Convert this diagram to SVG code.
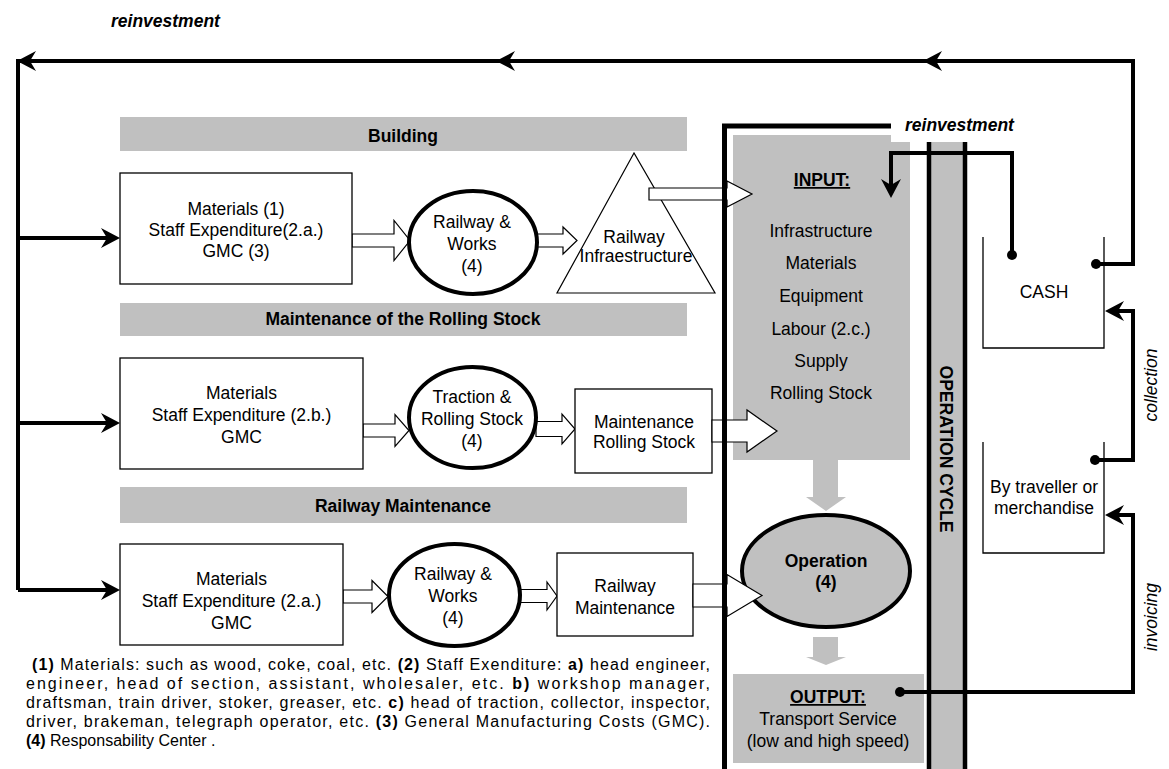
<svg xmlns="http://www.w3.org/2000/svg" xmlns:xlink="http://www.w3.org/1999/xlink" width="1169" height="769" viewBox="0 0 1169 769">
<style>
.t{font-family:"Liberation Sans",Arial,sans-serif;font-size:17.5px;text-anchor:middle;fill:#000}
.b{font-weight:bold}
.bi{font-weight:bold;font-style:italic}
.i{font-style:italic}
.u{text-decoration:underline}
.fn{font-family:"Liberation Sans",Arial,sans-serif;font-size:16px;fill:#000}
.conn{fill:none;stroke:#000;stroke-width:4;stroke-linejoin:miter}
.box{fill:#fff;stroke:#000;stroke-width:1.3}
.ell{fill:#fff;stroke:#000;stroke-width:4}
.hol{fill:#fff;stroke:#000;stroke-width:1.2;stroke-linejoin:miter}
.gray{fill:#c0c0c0}
</style>
<defs>
<path id="hd" d="M0,0 L19,-10 L13,0 L19,10 Z" fill="#000"/>
</defs>
<rect width="1169" height="769" fill="#fff"/>

<!-- header bars -->
<g id="bar-building"><rect class="gray" x="120" y="117" width="567" height="34"/><text class="t b" x="403" y="142">Building</text></g>
<g id="bar-rolling"><rect class="gray" x="120" y="303" width="567" height="33"/><text class="t b" x="403" y="325">Maintenance of the Rolling Stock</text></g>
<g id="bar-railway"><rect class="gray" x="120" y="487" width="567" height="36"/><text class="t b" x="403" y="512">Railway Maintenance</text></g>

<!-- INPUT -->
<g id="input"><polygon class="gray" points="733,135 891,135 891,142 910,142 910,460 733,460"/>
<text class="t b u" x="822" y="186">INPUT:</text>
<text class="t" x="821" y="237">Infrastructure</text>
<text class="t" x="821" y="269">Materials</text>
<text class="t" x="821" y="302">Equipment</text>
<text class="t" x="821" y="335">Labour (2.c.)</text>
<text class="t" x="821" y="367">Supply</text>
<text class="t" x="821" y="399">Rolling Stock</text></g>

<!-- operation cycle band -->
<g id="cycle"><rect class="gray" x="929" y="142" width="36" height="627"/>
<line x1="929" y1="142" x2="929" y2="769" stroke="#000" stroke-width="4.5"/>
<line x1="965" y1="142" x2="965" y2="769" stroke="#000" stroke-width="4.5"/>
<text class="t b" transform="translate(940,449) rotate(90)">OPERATION CYCLE</text></g>

<!-- gray block arrows -->
<g id="flow">
<polygon class="gray" points="813,460 838,460 838,497 846,497 826,511 806,497 813,497"/>
<polygon class="gray" points="813,637 838,637 838,657 846,657 826,665 806,657 813,657"/>
</g>

<!-- OUTPUT -->
<g id="output"><rect class="gray" x="733" y="674" width="191" height="89"/>
<text class="t b u" x="828" y="703">OUTPUT:</text>
<text class="t" x="828" y="725">Transport Service</text>
<text class="t" x="828" y="747">(low and high speed)</text></g>

<!-- hollow arrows (behind ellipses) -->
<g id="hollow-arrows">
<polygon class="hol" points="352,234 394,234 394,220.5 410,240.5 394,260.5 394,247 352,247"/>
<polygon class="hol" points="537,234 563,234 563,227 577,240.5 563,254 563,247 537,247"/>
<polygon class="hol" points="363,424 395,424 395,414.5 409,430.5 395,446.5 395,437 363,437"/>
<polygon class="hol" points="536,421.5 562,421.5 562,414 575,429 562,444 562,436.5 536,436.5"/>
<polygon class="hol" points="343,590 372,590 372,580.5 388,596.5 372,612.5 372,603 343,603"/>
<polygon class="hol" points="520,589.5 547,589.5 547,582 557,596 547,610 547,602.5 520,602.5"/>
</g>

<!-- boxes -->
<g id="box1"><rect class="box" x="120" y="173" width="232" height="111"/>
<text class="t" x="236" y="215">Materials (1)</text><text class="t" x="236" y="236">Staff Expenditure(2.a.)</text><text class="t" x="236" y="257">GMC (3)</text></g>
<g id="box2"><rect class="box" x="120" y="358" width="243" height="111"/>
<text class="t" x="241.5" y="399">Materials</text><text class="t" x="241.5" y="421">Staff Expenditure (2.b.)</text><text class="t" x="241.5" y="443">GMC</text></g>
<g id="box3"><rect class="box" x="120" y="544" width="223" height="101"/>
<text class="t" x="231.5" y="585">Materials</text><text class="t" x="231.5" y="607">Staff Expenditure (2.a.)</text><text class="t" x="231.5" y="629">GMC</text></g>

<!-- ellipses -->
<g id="works1"><ellipse class="ell" cx="473" cy="242.5" rx="64" ry="51.5"/>
<text class="t" x="472" y="228">Railway &amp;</text><text class="t" x="472" y="250">Works</text><text class="t" x="472" y="272">(4)</text></g>
<g id="traction"><ellipse class="ell" cx="472.5" cy="417.5" rx="63.5" ry="50.5"/>
<text class="t" x="472" y="403">Traction &amp;</text><text class="t" x="472" y="425">Rolling Stock</text><text class="t" x="472" y="447">(4)</text></g>
<g id="works2"><ellipse class="ell" cx="454.5" cy="595" rx="65.5" ry="51"/>
<text class="t" x="453" y="580">Railway &amp;</text><text class="t" x="453" y="602">Works</text><text class="t" x="453" y="624">(4)</text></g>

<!-- triangle -->
<g id="infra"><polygon points="634,153 557,293 715,293" fill="#fff" stroke="#000" stroke-width="1.2"/>
<text class="t" x="634" y="243">Railway</text><text class="t" x="636" y="262">Infraestructure</text></g>

<!-- maintenance boxes -->
<g id="mrs"><rect class="box" x="575" y="389" width="137" height="84"/>
<text class="t" x="644" y="428">Maintenance</text><text class="t" x="644" y="448">Rolling Stock</text></g>
<g id="rm"><rect class="box" x="557" y="553" width="136" height="83"/>
<text class="t" x="625" y="592">Railway</text><text class="t" x="625" y="614">Maintenance</text></g>

<!-- Operation -->
<g id="operation"><ellipse cx="826" cy="571" rx="84" ry="56" fill="#c0c0c0" stroke="#000" stroke-width="4"/>
<text class="t b" x="826" y="567">Operation</text><text class="t b" x="826" y="588">(4)</text></g>

<!-- hollow arrows to input / operation -->
<g id="hollow-arrows-2">
<polygon class="hol" points="649,188 727,188 727,181 752,194 727,207 727,200 649,200"/>
<polygon class="hol" points="712,420 747,420 747,410 777,431 747,452 747,442 712,442"/>
<polygon class="hol" points="693,584 727,584 727,574.5 762,595.5 727,616.5 727,607 693,607"/>
</g>

<!-- CASH and traveller containers -->
<g id="cash"><path d="M983,237 V348 H1104 V237" fill="none" stroke="#000" stroke-width="1.3"/>
<text class="t" x="1044" y="298">CASH</text></g>
<g id="traveller"><path d="M983,442 V553 H1104 V442" fill="none" stroke="#000" stroke-width="1.3"/>
<text class="t" x="1044" y="493">By traveller or</text><text class="t" x="1044" y="514">merchandise</text></g>

<!-- connectors -->
<g id="connectors">
<path d="M891,126 H724.5 V769" fill="none" stroke="#000" stroke-width="5"/>
<path class="conn" d="M1096,264 H1133 V61 H18 V590"/>
<path class="conn" d="M18,238 H112 M18,423 H112 M18,590 H112"/>
<path class="conn" d="M1012,255 V153 H891 V190"/>
<path class="conn" d="M1095,460 H1133 V311 H1113"/>
<path class="conn" d="M900,692 H1133 V515 H1113"/>
<use xlink:href="#hd" transform="translate(17,61)"/>
<use xlink:href="#hd" transform="translate(496,61)"/>
<use xlink:href="#hd" transform="translate(923,61)"/>
<use xlink:href="#hd" transform="translate(120,238) rotate(180)"/>
<use xlink:href="#hd" transform="translate(120,423) rotate(180)"/>
<use xlink:href="#hd" transform="translate(120,590) rotate(180)"/>
<use xlink:href="#hd" transform="translate(891,198) rotate(-90)"/>
<use xlink:href="#hd" transform="translate(1105,311)"/>
<use xlink:href="#hd" transform="translate(1105,515)"/>
<circle cx="1012" cy="255" r="5"/>
<circle cx="1096" cy="264" r="5"/>
<circle cx="1095" cy="460" r="5"/>
<circle cx="900" cy="692" r="5"/>
</g>

<!-- labels -->
<g id="labels">
<text class="t bi" x="111" y="27" style="text-anchor:start">reinvestment</text>
<text class="t bi" x="905" y="131" style="text-anchor:start">reinvestment</text>
<text class="t i" transform="translate(1157,385) rotate(-90)">collection</text>
<text class="t i" transform="translate(1157,617) rotate(-90)">invoicing</text>
</g>

<!-- footnote -->
<g id="footnote">
<text class="fn" x="32" y="670" textLength="678" lengthAdjust="spacing"><tspan font-weight="bold">(1)</tspan> Materials: such as wood, coke, coal, etc. <tspan font-weight="bold">(2)</tspan> Staff Exenditure: <tspan font-weight="bold">a)</tspan> head engineer,</text>
<text class="fn" x="26" y="689" textLength="684" lengthAdjust="spacing">engineer, head of section, assistant, wholesaler, etc. <tspan font-weight="bold">b)</tspan> workshop manager,</text>
<text class="fn" x="26" y="708" textLength="684" lengthAdjust="spacing">draftsman, train driver, stoker, greaser, etc. <tspan font-weight="bold">c)</tspan> head of traction, collector, inspector,</text>
<text class="fn" x="26" y="727" textLength="684" lengthAdjust="spacing">driver, brakeman, telegraph operator, etc. <tspan font-weight="bold">(3)</tspan> General Manufacturing Costs (GMC).</text>
<text class="fn" x="26" y="746"><tspan font-weight="bold">(4)</tspan> Responsability Center .</text>
</g>
</svg>
